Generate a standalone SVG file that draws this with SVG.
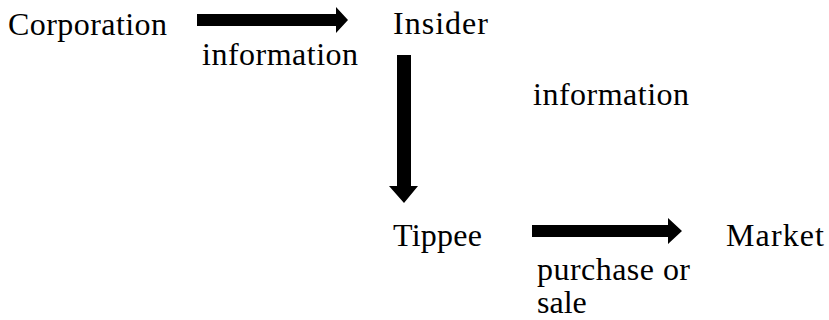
<svg xmlns="http://www.w3.org/2000/svg" width="829" height="320" viewBox="0 0 829 320">
<style>
.lbl { font-family: "Liberation Serif", "Times New Roman", serif; font-size: 32px; fill: #000; }
.arrow { fill: #000; stroke: none; }
</style>
<rect width="829" height="320" fill="#fff"/>
<g id="corporation"><text class="lbl" x="8" y="35" textLength="159">Corporation</text></g>
<g id="insider"><text class="lbl" x="393" y="34" textLength="95">Insider</text></g>
<g id="tippee"><text class="lbl" x="393" y="246" textLength="89">Tippee</text></g>
<g id="market"><text class="lbl" x="726" y="246" textLength="98">Market</text></g>
<g id="connectors">
  <polygon class="arrow" points="197,14 336,14 336,7 348,20 336,33 336,26 197,26"/>
  <text class="lbl" x="202" y="65" textLength="156">information</text>
  <polygon class="arrow" points="397,55 411,55 411,186 418,186 404,203 389,186 397,186"/>
  <text class="lbl" x="533" y="105" textLength="156">information</text>
  <polygon class="arrow" points="532,225 668,225 668,218 682,231 668,244 668,237 532,237"/>
  <text class="lbl" x="537" y="280" textLength="153">purchase or</text>
  <text class="lbl" x="537" y="313">sale</text>
</g>
</svg>
